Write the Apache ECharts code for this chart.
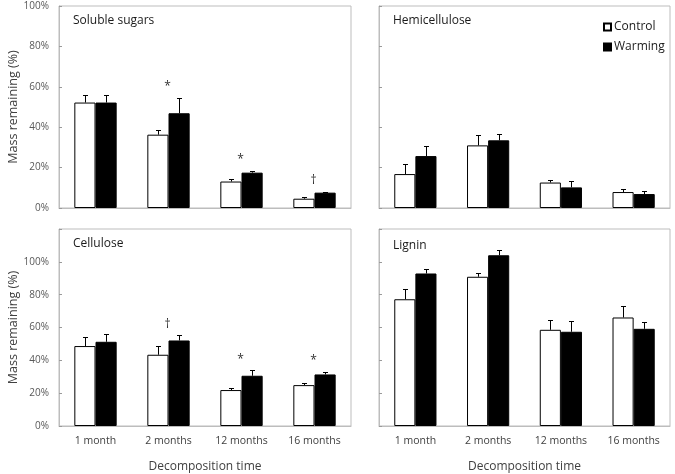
<!DOCTYPE html>
<html>
<head>
<meta charset="utf-8">
<script src="https://cdn.jsdelivr.net/npm/echarts@6/dist/echarts.min.js"></script>
<style>html,body{margin:0;padding:0;background:#fff}#c{width:675px;height:474px}</style>
</head>
<body>
<div id="c"></div>
<script>
const categories = ['1 month', '2 months', '12 months', '16 months'];
const panelTitles = ['Soluble sugars', 'Hemicellulose', 'Cellulose', 'Lignin'];
const seriesNames = ['Control', 'Warming'];

const sugarsControl = [52.2, 36.3, 13.1, 4.6];
const sugarsControlErr = [3.7, 2.5, 1.3, 0.8];
const sugarsWarming = [52.2, 46.9, 17.5, 7.6];
const sugarsWarmingErr = [3.8, 7.6, 0.8, 0.5];
const sugarsSig = ['', '*', '*', '†'];

const hemiControl = [16.8, 31.0, 12.6, 7.9];
const hemiControlErr = [4.8, 5.3, 1.1, 1.7];
const hemiWarming = [25.7, 33.5, 10.2, 6.9];
const hemiWarmingErr = [4.8, 3.1, 3.0, 1.5];
const hemiSig = ['', '', '', ''];

const celluloseControl = [48.7, 43.4, 21.9, 24.9];
const celluloseControlErr = [5.4, 5.5, 1.2, 1.4];
const celluloseWarming = [51.3, 52.1, 30.6, 31.4];
const celluloseWarmingErr = [4.9, 3.2, 3.4, 1.7];
const celluloseSig = ['', '†', '*', '*'];

const ligninControl = [77.2, 90.9, 58.6, 66.1];
const ligninControlErr = [6.2, 2.4, 6.1, 7.1];
const ligninWarming = [92.9, 104.0, 57.4, 59.2];
const ligninWarmingErr = [3.0, 3.1, 6.7, 4.3];
const ligninSig = ['', '', '', ''];

const topTicksMax = 100;
const bottomTicksMax = 120;
const tickStep = 20;

const panels = [
  {c: sugarsControl, ce: sugarsControlErr, w: sugarsWarming, we: sugarsWarmingErr, sig: sugarsSig},
  {c: hemiControl, ce: hemiControlErr, w: hemiWarming, we: hemiWarmingErr, sig: hemiSig},
  {c: celluloseControl, ce: celluloseControlErr, w: celluloseWarming, we: celluloseWarmingErr, sig: celluloseSig},
  {c: ligninControl, ce: ligninControlErr, w: ligninWarming, we: ligninWarmingErr, sig: ligninSig}
];

const FONT = 'Open Sans';
const CAT_GAP = 0.42;
const layout = [
  {left: 59, top: 6, width: 292, height: 202},
  {left: 379, top: 6, width: 291, height: 202},
  {left: 59, top: 229, width: 292, height: 202},
  {left: 379, top: 229, width: 291, height: 202}
];
const titlePos = [[68, 10], [388, 10], [68, 233], [388, 235]];

const grids = [], xAxes = [], yAxes = [], series = [], titles = [];

layout.forEach((g, i) => {
  const isBottom = i >= 2;
  const isLeft = i % 2 === 0;
  grids.push(Object.assign({show: true, borderColor: '#bdbdbd', borderWidth: 1, backgroundColor: 'transparent'}, g));
  xAxes.push({
    type: 'category', gridIndex: i, data: categories,
    axisLine: {show: true, lineStyle: {color: '#bdbdbd'}},
    axisTick: {show: false},
    axisLabel: {show: isBottom, margin: 10, fontFamily: FONT, fontSize: 10.5, color: '#404040'},
    name: isBottom ? 'Decomposition time' : '',
    nameLocation: 'middle', nameGap: 35,
    nameTextStyle: {fontFamily: FONT, fontSize: 12, color: '#404040'}
  });
  const max = isBottom ? bottomTicksMax : topTicksMax;
  yAxes.push({
    type: 'value', gridIndex: i, min: 0, max: max, interval: tickStep,
    splitLine: {show: false},
    axisLine: {show: true, lineStyle: {color: '#bdbdbd'}},
    axisTick: {show: true, inside: true, length: 3, lineStyle: {color: '#9a9a9a'}},
    axisLabel: {
      show: isLeft, margin: 10, fontFamily: FONT, fontSize: 10, color: '#595959',
      formatter: v => (v > 100 ? '' : v + '%')
    },
    name: isLeft ? 'Mass remaining (%)' : '',
    nameLocation: 'middle', nameGap: 38,
    nameTextStyle: {fontFamily: FONT, fontSize: 12.5, color: '#404040'}
  });
  titles.push({
    text: panelTitles[i], left: titlePos[i][0], top: titlePos[i][1],
    textStyle: {fontFamily: FONT, fontSize: 12, fontWeight: 'normal', color: '#1a1a1a'}
  });

  const p = panels[i];
  const barCommon = {
    type: 'bar', xAxisIndex: i, yAxisIndex: i,
    barGap: '0%', barCategoryGap: (CAT_GAP * 100) + '%'
  };
  series.push(Object.assign({}, barCommon, {
    name: seriesNames[0], data: p.c,
    itemStyle: {color: '#ffffff', borderColor: '#000', borderWidth: 1}
  }));
  series.push(Object.assign({}, barCommon, {
    name: seriesNames[1], data: p.w,
    itemStyle: {color: '#000000', borderColor: '#000', borderWidth: 1}
  }));

  [[p.c, p.ce, -1], [p.w, p.we, 1]].forEach(([vals, errs, side]) => {
    series.push({
      type: 'custom', xAxisIndex: i, yAxisIndex: i, z: 5, silent: true,
      data: vals.map((v, k) => [k, v, errs[k]]),
      renderItem: (params, api) => {
        const x = api.value(0), v = api.value(1), e = api.value(2);
        const base = api.coord([x, v]);
        const top = api.coord([x, v + e]);
        const band = api.size([1, 0])[0];
        const bw = band * (1 - CAT_GAP) / 2;
        const cx = Math.round(base[0] + side * bw / 2) + 0.5;
        const ty = Math.round(top[1]) + 0.5;
        const style = {stroke: '#000', lineWidth: 1};
        return {
          type: 'group',
          children: [
            {type: 'line', shape: {x1: cx, y1: base[1], x2: cx, y2: ty}, style: style},
            {type: 'line', shape: {x1: cx - 2.5, y1: ty, x2: cx + 2.5, y2: ty}, style: style}
          ]
        };
      }
    });
  });

  const sigItems = [];
  p.sig.forEach((s, k) => {
    if (s) sigItems.push({k: k, top: Math.max(p.c[k] + p.ce[k], p.w[k] + p.we[k]), s: s});
  });
  if (sigItems.length) {
    series.push({
      type: 'custom', xAxisIndex: i, yAxisIndex: i, z: 6, silent: true,
      data: sigItems.map(d => [d.k, d.top]),
      renderItem: (params, api) => {
        const pt = api.coord([api.value(0), api.value(1)]);
        const item = sigItems[params.dataIndex];
        return {
          type: 'text', x: pt[0] - 1, y: pt[1] - 11,
          style: {
            text: item.s, textAlign: 'center', textVerticalAlign: 'middle',
            fontFamily: FONT, fontSize: 12, fill: '#333'
          }
        };
      }
    });
  }
});

const chart = echarts.init(document.getElementById('c'), null, {renderer: 'canvas'});
chart.setOption({
  animation: false,
  backgroundColor: '#ffffff',
  title: titles,
  legend: {
    data: seriesNames.map(n => ({name: n, icon: 'rect'})),
    orient: 'vertical', left: 598, top: 16,
    itemWidth: 7, itemHeight: 7, itemGap: 8,
    textStyle: {fontFamily: FONT, fontSize: 12, color: '#1a1a1a', padding: [0, 0, 0, -2]}
  },
  grid: grids, xAxis: xAxes, yAxis: yAxes, series: series
});
</script>
</body>
</html>
